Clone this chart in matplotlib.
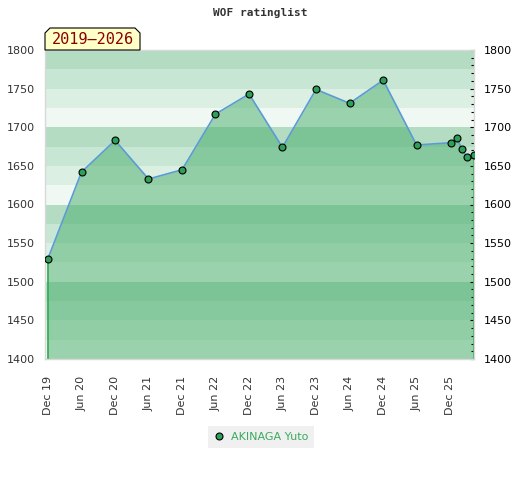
import matplotlib
matplotlib.use("Agg")
import matplotlib.pyplot as plt
import matplotlib.dates as mdates
from matplotlib.patches import Polygon
from matplotlib.lines import Line2D
import numpy as np
import datetime as dt

# ---- data ----
dates = ["2019-12-01", "2020-06-01", "2020-12-01", "2021-06-01", "2021-12-01",
         "2022-06-01", "2022-12-01", "2023-06-01", "2023-12-01", "2024-06-01",
         "2024-12-01", "2025-06-01", "2025-12-05", "2026-01-08", "2026-02-02",
         "2026-03-03", "2026-04-08"]
ratings = [1530, 1642, 1683, 1633, 1645, 1717, 1743, 1674, 1749, 1731,
           1761, 1677, 1680, 1686, 1672, 1661, 1664]
player = "AKINAGA Yuto"
title = "WOF ratinglist"
badge = "2019\u20132026"
tick_dates = ["2019-12-01", "2020-06-01", "2020-12-01", "2021-06-01", "2021-12-01",
              "2022-06-01", "2022-12-01", "2023-06-01", "2023-12-01", "2024-06-01",
              "2024-12-01", "2025-06-01", "2025-12-01"]
tick_labels = ["Dec 19", "Jun 20", "Dec 20", "Jun 21", "Dec 21", "Jun 22", "Dec 22",
               "Jun 23", "Dec 23", "Jun 24", "Dec 24", "Jun 25", "Dec 25"]
y_min, y_max = 1400, 1800

x = [dt.datetime.strptime(d, "%Y-%m-%d") for d in dates]
xt = [dt.datetime.strptime(d, "%Y-%m-%d") for d in tick_dates]

W, H = 520, 480
fig = plt.figure(figsize=(W / 100, H / 100), dpi=100)
ax = fig.add_axes([45 / W, 1 - 359 / H, (474 - 45) / W, (359 - 50) / H])

band_colors = ["#b3dcc2", "#c8e6d4", "#dcefe3", "#f0f8f3"]
for lo in range(y_min, y_max, 25):
    idx = 3 - ((lo - y_min) % 100) // 25
    ax.axhspan(lo, lo + 25, color=band_colors[idx], lw=0, zorder=0)

ax.fill_between(x, ratings, y_min, color="#47ae6a", alpha=0.5, lw=0, zorder=1)
ax.vlines([x[0], x[-1]], y_min, [ratings[0], ratings[-1]], color="#2ea84f", lw=1.2, zorder=2)
ax.plot(x, ratings, color="#5b9bd5", lw=1.2, zorder=3)
ax.plot(x, ratings, ls="none", marker="o", ms=5, mfc="#2e9e58", mec="black", mew=0.8, zorder=4)

ax.set_xlim(x[0] - dt.timedelta(days=16), x[-1] + dt.timedelta(days=2))
ax.set_ylim(y_min, y_max)
ax.set_xticks(xt)
ax.set_xticklabels(tick_labels, rotation=90, fontsize=8, color="#333333")
ax.tick_params(axis="x", length=0, pad=12)
ax.set_yticks(np.arange(y_min, y_max + 1, 50))
ax.tick_params(axis="y", which="both", left=False, right=True, labelleft=True,
               labelright=True, direction="in", length=3, width=0.8, color="black",
               labelsize=8, pad=7)
for lbl in ax.get_yticklabels():
    lbl.set_color("#333333")
ax.yaxis.set_minor_locator(matplotlib.ticker.MultipleLocator(10))
ax.tick_params(axis="y", which="minor", length=2, right=True, left=False, direction="in")
for t in ax.yaxis.get_ticklabels(which="major"):
    pass
for lab in ax.yaxis.get_majorticklabels():
    pass
# right labels black
for tick in ax.yaxis.get_major_ticks():
    tick.label2.set_color("black")
    tick.label1.set_color("#333333")

for s in ax.spines.values():
    s.set_color("#d8d8d8")
    s.set_linewidth(1)

fig.text(260 / W, 1 - 13 / H, title, ha="center", va="center",
         family="DejaVu Sans Mono", fontweight="bold", fontsize=8, color="#333333")

pts = [(45, 50), (45, 33), (50, 28), (135, 28), (140, 33), (140, 50)]
poly = Polygon([(px / W, 1 - py / H) for px, py in pts], closed=True,
               transform=fig.transFigure, facecolor="#ffffc8", edgecolor="black",
               lw=0.8, zorder=10)
fig.patches.append(poly)
fig.text(92.5 / W, 1 - 39.5 / H, badge, ha="center", va="center",
         family="DejaVu Sans Mono", fontsize=11, color="#8b0000", zorder=11)

handle = Line2D([], [], ls="none", marker="o", ms=5, mfc="#2e9e58", mec="black", mew=0.8)
leg = fig.legend([handle], [player], loc="center", bbox_to_anchor=(261 / W, 1 - 437 / H),
                 frameon=True, fancybox=False, facecolor="#f0f0f0", edgecolor="none",
                 fontsize=8, handlelength=1, handletextpad=0.6, borderpad=0.5)
leg.get_frame().set_alpha(1)
for t in leg.get_texts():
    t.set_color("#3aaa5e")

fig.savefig("out.png", dpi=100)
